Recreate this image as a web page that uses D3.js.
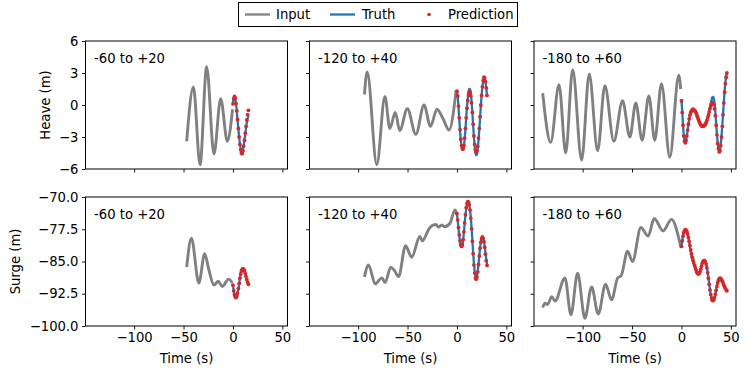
<!DOCTYPE html>
<html><head><meta charset="utf-8">
<script src="https://cdn.jsdelivr.net/npm/d3@7"></script>
<style>body{margin:0;background:#fff}svg{display:block}text{font-family:"DejaVu Sans",sans-serif}</style>
</head><body><svg id="c" width="748" height="373"></svg>
<script>
// ---------- data ----------
const DT = 0.78;                     // sample step (s)
const panelLabels = ["-60 to +20", "-120 to +40", "-180 to +60"];
const xTicks = [-100, -50, 0, 50];
const heaveTicks = [-6, -3, 0, 3, 6];
const surgeTicks = [-100, -92.5, -85, -77.5, -70];
const legendLabels = ["Input", "Truth", "Prediction"];

// input histories: [time, value]
const heaveIn1 = [[-46.8,-3.4],[-40,1.7],[-33.3,-5.6],[-26.6,3.6],[-19.2,-4.6],[-12.4,0.6],[-5.7,-3.4],[-0.4,-0.4]];
const heaveIn2 = [[-93.6,1.0],[-90.8,3.1],[-81.1,-5.6],[-72.9,0.8],[-67.9,-2.2],[-62.4,-0.7],[-57.9,-2.4],[-50.2,-0.35],[-41.6,-2.75],[-33.3,0],[-26.8,-2.0],[-20.2,-0.4],[-14.3,-1.25],[-8,-2.35],[-0.8,1.4]];
const heaveIn3 = [[-140.4,1.1],[-132.3,-3.5],[-123.9,1.9],[-117.1,-4.5],[-110.1,3.3],[-101,-5.15],[-93.3,2.9],[-84.8,-4.3],[-77.5,1.8],[-68.4,-3.4],[-59.6,0.4],[-52.2,-3.0],[-46.2,0.2],[-39.8,-3.3],[-33,0.84],[-27,-3.3],[-20.2,2.0],[-11.8,-4.9],[-2.7,2.8],[-0.8,1.5]];
const surgeIn1 = [[-46.8,-86.3],[-42,-79.6],[-34.5,-90.0],[-28.6,-83.2],[-24.5,-86.8],[-19.2,-90.5],[-15,-89.6],[-10.7,-90.8],[-4.5,-89.1],[-0.5,-90.0]];
const surgeIn2 = [[-93.6,-88.6],[-89.5,-85.8],[-82.7,-90.2],[-76,-88.8],[-72.7,-89.9],[-67,-86.3],[-63.5,-87],[-59,-88.5],[-52,-81.3],[-45.8,-84.0],[-37.5,-79.2],[-35,-80.2],[-29,-77.7],[-26,-76.8],[-21.2,-76.4],[-18.5,-77.0],[-15.4,-76.5],[-12.5,-76.9],[-7,-76.1],[-2,-73.0],[-0.5,-73.8]];
const surgeIn3 = [[-140.4,-95.7],[-138,-94.7],[-135.5,-95.0],[-131.3,-93.2],[-127.9,-94.2],[-117.9,-88.8],[-111.8,-97.4],[-105.1,-87.7],[-97.7,-98.2],[-90.9,-90.9],[-84.2,-97.2],[-76.8,-90.3],[-70.7,-93.9],[-64.5,-88.8],[-61,-88.3],[-54.5,-82.6],[-49.5,-85.0],[-41.1,-77.1],[-33.7,-79.1],[-27.6,-75.0],[-18.6,-77.9],[-10.1,-75.2],[-0.7,-81.6]];

// truth & prediction, one value per DT step starting at t = 0
const heaveTruth1 = [0.2,0.65,0.8,0.6,0.1,-0.6,-1.4,-2.2,-3.0,-3.6,-4.05,-4.3,-4.35,-4.15,-3.75,-3.25,-2.7,-2.15,-1.65,-1.3,-1.0];
const heavePred1  = [0.1,0.6,0.8,0.65,0.15,-0.55,-1.35,-2.2,-3.0,-3.7,-4.2,-4.5,-4.55,-4.3,-3.85,-3.3,-2.65,-2.0,-1.4,-0.9,-0.5];
const heaveTruth2 = [1.35,0.8,-0.2,-1.3,-2.4,-3.3,-3.9,-4.2,-4.2,-3.9,-3.2,-2.3,-1.2,-0.2,0.6,1.2,1.5,1.5,1.1,0.3,-0.7,-1.9,-3.0,-3.9,-4.5,-4.7,-4.6,-4.1,-3.3,-2.3,-1.2,-0.1,0.9,1.7,2.2,2.5,2.5,2.2,1.6,0.9];
const heavePred2  = [1.3,0.85,-0.1,-1.2,-2.3,-3.2,-3.8,-4.1,-4.1,-3.8,-3.1,-2.2,-1.2,-0.3,0.4,0.95,1.2,1.2,0.85,0.2,-0.7,-1.8,-2.9,-3.7,-4.2,-4.4,-4.3,-3.9,-3.1,-2.2,-1.1,0,0.9,1.7,2.3,2.6,2.55,2.2,1.6,0.9];
const heaveTruth3 = [0.5,-0.6,-1.8,-2.8,-3.3,-3.45,-3.3,-2.9,-2.4,-1.9,-1.4,-1.0,-0.75,-0.6,-0.5,-0.45,-0.45,-0.5,-0.6,-0.75,-0.95,-1.15,-1.35,-1.55,-1.7,-1.85,-1.95,-2.0,-2.0,-2.0,-1.95,-1.85,-1.7,-1.5,-1.25,-0.95,-0.6,-0.2,0.15,0.45,0.7,0.75,0.6,0.1,-0.7,-1.7,-2.7,-3.5,-4.0,-4.3,-4.2,-3.7,-2.9,-1.9,-0.8,0.3,1.3,2.1,2.7,3.0];
const heavePred3  = [0.4,-0.7,-1.9,-2.9,-3.4,-3.55,-3.35,-2.9,-2.35,-1.8,-1.3,-0.95,-0.7,-0.55,-0.45,-0.4,-0.45,-0.5,-0.6,-0.75,-0.95,-1.15,-1.35,-1.55,-1.7,-1.85,-1.95,-2.0,-2.0,-1.95,-1.9,-1.8,-1.65,-1.45,-1.2,-0.95,-0.65,-0.35,-0.1,0.1,0.2,0.2,0.05,-0.35,-1.0,-1.9,-2.8,-3.6,-4.1,-4.4,-4.3,-3.8,-3.0,-2.0,-0.9,0.2,1.2,2.0,2.6,3.0];
const surgeTruth1 = [-90.4,-91.9,-92.9,-93.5,-93.6,-93.3,-92.6,-91.5,-90.3,-89.1,-88.1,-87.3,-86.9,-86.8,-86.8,-87.2,-87.8,-88.6,-89.3,-89.9,-90.4];
const surgePred1  = [-90.5,-91.8,-92.7,-93.2,-93.3,-93.0,-92.3,-91.3,-90.1,-88.9,-87.9,-87.2,-86.8,-86.7,-86.8,-87.2,-87.8,-88.5,-89.2,-89.8,-90.3];
const surgeTruth2 = [-74.0,-75.5,-77.3,-79.0,-80.4,-81.3,-81.6,-81.2,-80.0,-78.2,-76.2,-74.3,-72.8,-71.8,-71.4,-71.4,-71.9,-73.0,-74.8,-77.2,-80.0,-82.9,-85.4,-87.3,-88.4,-88.7,-88.3,-87.2,-85.6,-83.7,-81.9,-80.5,-79.6,-79.3,-79.5,-80.2,-81.4,-83.0,-84.5,-85.6];
const surgePred2  = [-73.9,-75.3,-77.1,-78.8,-80.2,-81.1,-81.5,-81.1,-79.9,-78.1,-76.0,-74.1,-72.5,-71.5,-71.1,-71.2,-71.8,-73.0,-74.9,-77.4,-80.3,-83.2,-85.8,-87.7,-88.8,-89.1,-88.6,-87.4,-85.7,-83.7,-81.9,-80.5,-79.6,-79.3,-79.6,-80.4,-81.7,-83.3,-84.8,-85.9];
const surgeTruth3 = [-81.6,-80.3,-79.2,-78.4,-77.9,-77.7,-77.7,-78.0,-78.6,-79.4,-80.4,-81.5,-82.6,-83.6,-84.4,-85.0,-85.5,-86.0,-86.5,-87.0,-87.4,-87.7,-87.8,-87.7,-87.3,-86.7,-86.0,-85.4,-85.0,-84.8,-84.8,-85.0,-85.5,-86.4,-87.5,-88.8,-90.2,-91.5,-92.6,-93.4,-93.9,-94.0,-93.8,-93.3,-92.5,-91.6,-90.7,-89.9,-89.3,-88.9,-88.8,-88.9,-89.1,-89.5,-89.9,-90.4,-90.8,-91.2,-91.5,-91.7];
const surgePred3  = [-81.5,-80.2,-79.1,-78.3,-77.8,-77.6,-77.7,-78.0,-78.6,-79.4,-80.3,-81.3,-82.3,-83.2,-84.0,-84.7,-85.3,-85.9,-86.5,-87.0,-87.5,-87.8,-87.9,-87.8,-87.4,-86.8,-86.1,-85.4,-85.0,-84.8,-84.8,-85.1,-85.6,-86.5,-87.6,-88.9,-90.3,-91.6,-92.7,-93.5,-94.0,-94.1,-93.9,-93.4,-92.6,-91.7,-90.8,-90.0,-89.4,-89.0,-88.9,-89.0,-89.2,-89.6,-90.0,-90.5,-90.9,-91.3,-91.6,-91.8];

// ---------- layout ----------
const svg = d3.select("#c");
const colLeft = [85.5, 309.5, 534], panelW = 202;
const rowsDef = [
  {top: 41, h: 128, domain: [-6, 6], ticks: heaveTicks, fmt: d3.format("d"), label: "Heave (m)", labelX: 50,
   inputs: [heaveIn1, heaveIn2, heaveIn3], truths: [heaveTruth1, heaveTruth2, heaveTruth3], preds: [heavePred1, heavePred2, heavePred3]},
  {top: 197, h: 129, domain: [-100, -70], ticks: surgeTicks, fmt: d3.format(".1f"), label: "Surge (m)", labelX: 19.5,
   inputs: [surgeIn1, surgeIn2, surgeIn3], truths: [surgeTruth1, surgeTruth2, surgeTruth3], preds: [surgePred1, surgePred2, surgePred3]}
];
const xDomain = [-149.2, 55.2];
const GRAY = "#808080", BLUE = "#1f77b4", RED = "#d62728";
const FS = 13.2;

rowsDef.forEach((row, ri) => {
  const y = d3.scaleLinear().domain(row.domain).range([row.top + row.h, row.top]);
  colLeft.forEach((left, ci) => {
    const x = d3.scaleLinear().domain(xDomain).range([left, left + panelW]);
    const g = svg.append("g");
    const line = d3.line().x(d => x(d[0])).y(d => y(d[1])).curve(d3.curveMonotoneX);
    g.append("path").datum(row.inputs[ci]).attr("d", line)
      .attr("fill", "none").attr("stroke", GRAY).attr("stroke-width", 2.9).attr("stroke-linejoin", "round").attr("stroke-linecap", "butt");
    const tr = row.truths[ci].map((v, i) => [i * DT, v]);
    g.append("path").datum(tr).attr("d", line)
      .attr("fill", "none").attr("stroke", BLUE).attr("stroke-width", 2.3);
    g.selectAll("circle").data(row.preds[ci].map((v, i) => [i * DT, v])).join("circle")
      .attr("cx", d => x(d[0])).attr("cy", d => y(d[1])).attr("r", 1.9).attr("fill", RED);

    // axes
    const ax = d3.axisBottom(x).tickValues(xTicks).tickSize(3.5).tickPadding(3.5)
      .tickFormat(ri === 1 ? d3.format("d") : () => "");
    const axG = g.append("g").attr("transform", `translate(0,${row.top + row.h})`).call(ax);
    const ay = d3.axisLeft(y).tickValues(row.ticks).tickSize(3.5).tickPadding(3.5)
      .tickFormat(ci === 0 ? row.fmt : () => "");
    const ayG = g.append("g").attr("transform", `translate(${left},0)`).call(ay);
    [axG, ayG].forEach(a => {
      a.select(".domain").remove();
      a.selectAll("line").attr("stroke", "#000").attr("stroke-width", 0.9);
      a.selectAll("text").attr("font-size", FS).attr("fill", "#000").attr("font-family", "DejaVu Sans");
    });
    g.append("rect").attr("x", left).attr("y", row.top).attr("width", panelW).attr("height", row.h)
      .attr("fill", "none").attr("stroke", "#000").attr("stroke-width", 1);
    g.append("text").attr("x", left + 8.5).attr("y", row.top + 21.5).attr("font-size", FS).text(panelLabels[ci]);
    if (ri === 1) {
      g.append("text").attr("x", left + panelW / 2).attr("y", 362.5).attr("text-anchor", "middle")
        .attr("font-size", FS).text("Time (s)");
    }
  });
  svg.append("text").attr("transform", `translate(${row.labelX},${row.top + row.h / 2}) rotate(-90)`)
    .attr("text-anchor", "middle").attr("font-size", FS).text(row.label);
});

// ---------- legend ----------
const lg = svg.append("g");
lg.append("rect").attr("x", 238.5).attr("y", 2.5).attr("width", 279).attr("height", 24)
  .attr("fill", "#fff").attr("stroke", "#000").attr("stroke-width", 1);
const legItems = [
  {type: "line", color: GRAY, x: 245, tx: 276},
  {type: "line", color: BLUE, x: 330, tx: 362},
  {type: "dot", color: RED, x: 416.5, tx: 448}
];
legItems.forEach((it, i) => {
  if (it.type === "line") {
    lg.append("line").attr("x1", it.x).attr("x2", it.x + 25).attr("y1", 14.5).attr("y2", 14.5)
      .attr("stroke", it.color).attr("stroke-width", 2.3);
  } else {
    lg.append("circle").attr("cx", it.x + 12.5).attr("cy", 14.5).attr("r", 1.8).attr("fill", it.color);
  }
  lg.append("text").attr("x", it.tx).attr("y", 19).attr("font-size", FS).text(legendLabels[i]);
});
</script></body></html>
